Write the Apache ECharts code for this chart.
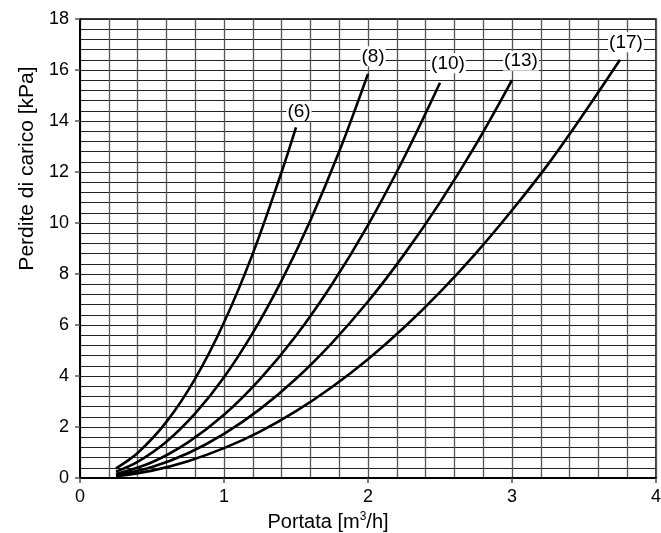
<!DOCTYPE html>
<html>
<head>
<meta charset="utf-8">
<script src="https://cdn.jsdelivr.net/npm/echarts@6/dist/echarts.min.js"></script>
<style>
  html, body { margin: 0; padding: 0; background: #ffffff; }
  #chart { width: 661px; height: 533px; }
</style>
</head>
<body>
<div id="chart"></div>
<script>
// Pressure drop curves, flow [m3/h] vs. pressure drop [kPa]
const curveNames = ['(6)', '(8)', '(10)', '(13)', '(17)'];

const flow6  = [0.25, 0.4, 0.6, 0.8, 1.0, 1.2, 1.4, 1.5];
const drop6  = [0.38, 0.98, 2.2, 3.9, 6.1, 8.8, 12.0, 13.75];

const flow8  = [0.25, 0.4, 0.6, 0.8, 1.0, 1.2, 1.4, 1.6, 1.8, 2.0];
const drop8  = [0.25, 0.63, 1.42, 2.53, 3.95, 5.69, 7.74, 10.1, 12.8, 15.85];

const flow10 = [0.25, 0.5, 0.75, 1.0, 1.25, 1.5, 1.75, 2.0, 2.25, 2.5];
const drop10 = [0.16, 0.62, 1.4, 2.48, 3.88, 5.58, 7.6, 9.92, 12.56, 15.5];

const flow13 = [0.25, 0.5, 0.75, 1.0, 1.25, 1.5, 1.75, 2.0, 2.25, 2.5, 2.75, 3.0];
const drop13 = [0.11, 0.43, 0.97, 1.73, 2.7, 3.89, 5.3, 6.92, 8.76, 10.81, 13.08, 15.6];

const flow17 = [0.25, 0.5, 0.75, 1.0, 1.25, 1.5, 1.75, 2.0, 2.25, 2.5, 2.75, 3.0, 3.25, 3.5, 3.75];
const drop17 = [0.07, 0.29, 0.66, 1.17, 1.82, 2.62, 3.57, 4.66, 5.9, 7.29, 8.82, 10.5, 12.3, 14.3, 16.4];

const xTicks = [0, 1, 2, 3, 4];
const yTicks = [0, 2, 4, 6, 8, 10, 12, 14, 16, 18];

const flows = [flow6, flow8, flow10, flow13, flow17];
const drops = [drop6, drop8, drop10, drop13, drop17];

// pixel offsets of each curve tag relative to its default spot above the end point
const tagOffsets = [[3, -1], [5, -2], [8, -4], [9, -4], [6, -2]];

const FONT = 'Liberation Sans, Arial, sans-serif';
const pairs = (xs, ys) => xs.map((x, i) => [x, ys[i]]);

const lineSeries = flows.map((xs, i) => ({
  name: curveNames[i],
  type: 'line',
  data: pairs(xs, drops[i]),
  smooth: 0.35,
  showSymbol: false,
  lineStyle: { color: '#000', width: 2.6 },
  z: 5,
  silent: true
}));

const tagSeries = {
  type: 'scatter',
  symbolSize: 1,
  itemStyle: { color: '#000', opacity: 0 },
  z: 10,
  silent: true,
  data: flows.map((xs, i) => ({
    value: [xs[xs.length - 1], drops[i][drops[i].length - 1]],
    label: {
      show: true,
      position: 'top',
      distance: 5,
      offset: tagOffsets[i],
      formatter: curveNames[i],
      color: '#000',
      opacity: 1,
      fontFamily: FONT,
      fontSize: 19,
      backgroundColor: '#fff',
      padding: [1, 1, 0, 1]
    }
  }))
};

const gridLine = { show: true, lineStyle: { color: '#222', width: 1 } };

const chart = echarts.init(document.getElementById('chart'), null, { renderer: 'canvas' });
chart.setOption({
  animation: false,
  backgroundColor: '#fff',
  textStyle: { fontFamily: FONT },
  grid: {
    left: 80, right: 5, top: 19, bottom: 55,
    outerBoundsMode: 'none',
    containLabel: false,
    show: true, borderColor: '#000', borderWidth: 1.5, backgroundColor: 'transparent'
  },
  xAxis: {
    type: 'value',
    min: xTicks[0], max: xTicks[xTicks.length - 1], interval: 1,
    name: 'Portata [m{s|3}/h]',
    nameLocation: 'middle',
    nameGap: 33,
    nameTextStyle: {
      color: '#000', fontSize: 20, fontFamily: FONT,
      padding: [0, 80, 0, 0],
      rich: { s: { fontSize: 12, fontFamily: FONT, verticalAlign: 'top', padding: [0, 0, 10, 0], color: '#000' } }
    },
    axisLine: { show: true, onZero: false, lineStyle: { color: '#000', width: 2 } },
    axisTick: { show: true, inside: false, length: 5, lineStyle: { color: '#555', width: 1.5 } },
    axisLabel: { color: '#000', fontSize: 18, fontFamily: FONT, margin: 10 },
    splitLine: { show: true, lineStyle: { color: '#555', width: 1.3 } },
    minorTick: { show: false, splitNumber: 5 },
    minorSplitLine: { show: true, lineStyle: { color: '#555', width: 1.3 } }
  },
  yAxis: {
    type: 'value',
    min: yTicks[0], max: yTicks[yTicks.length - 1], interval: 2,
    name: 'Perdite di carico [kPa]',
    nameLocation: 'middle',
    nameGap: 41,
    nameTextStyle: { color: '#000', fontSize: 21, fontFamily: FONT, padding: [0, 0, 0, 160] },
    axisLine: { show: true, onZero: false, lineStyle: { color: '#000', width: 2 } },
    axisTick: { show: true, inside: false, length: 5, lineStyle: { color: '#555', width: 1.5 } },
    axisLabel: { color: '#000', fontSize: 18, fontFamily: FONT, margin: 11 },
    splitLine: gridLine,
    minorTick: { show: false, splitNumber: 5 },
    minorSplitLine: gridLine
  },
  series: [...lineSeries, tagSeries]
});
</script>
</body>
</html>
